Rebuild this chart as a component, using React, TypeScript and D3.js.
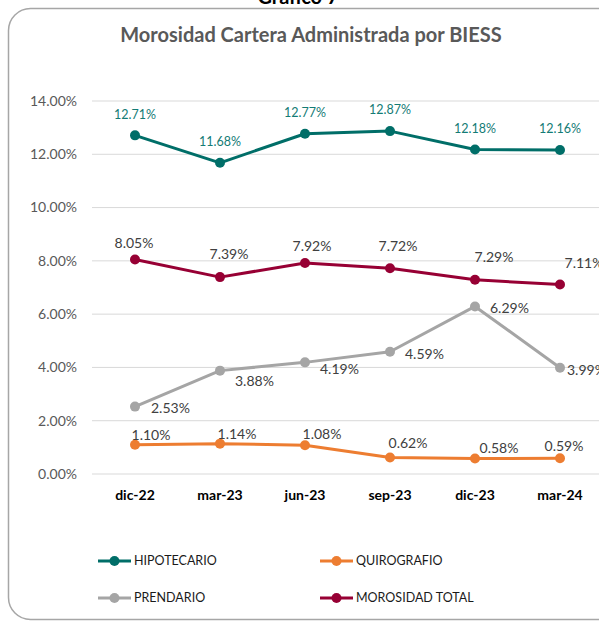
import * as d3 from 'd3';

// Chart data.
const CATEGORIES = ['dic-22', 'mar-23', 'jun-23', 'sep-23', 'dic-23', 'mar-24'];
const HIPOTECARIO = [12.71, 11.68, 12.77, 12.87, 12.18, 12.16];
const QUIROGRAFIO = [1.1, 1.14, 1.08, 0.62, 0.58, 0.59];
const PRENDARIO = [2.53, 3.88, 4.19, 4.59, 6.29, 3.99];
const MOROSIDAD_TOTAL = [8.05, 7.39, 7.92, 7.72, 7.29, 7.11];
const Y_TICKS = [0, 2, 4, 6, 8, 10, 12, 14];

const W = 599;
const H = 624;
const FONT = 'Lato, "Open Sans", sans-serif';

interface Series {
  name: string;
  values: number[];
  color: string;
  labelColor: string;
  labelSize: number;
  // default label offset relative to the point
  dx: number;
  dy: number;
  anchor: 'start' | 'middle';
  // per-point extra nudges (Excel labels dragged by hand)
  nudge?: [number, number][];
}

const SERIES: Series[] = [
  {
    name: 'HIPOTECARIO', values: HIPOTECARIO, color: '#006E68', labelColor: '#137B75',
    labelSize: 12.5, dx: 0, dy: -21, anchor: 'middle',
  },
  {
    name: 'PRENDARIO', values: PRENDARIO, color: '#A5A5A5', labelColor: '#404040',
    labelSize: 14, dx: 15, dy: 2, anchor: 'start',
    nudge: [[1, 0], [0, 8], [0, 5], [0, 0], [0, 0], [-8, 0]],
  },
  {
    name: 'QUIROGRAFIO', values: QUIROGRAFIO, color: '#ED7D31', labelColor: '#404040',
    labelSize: 14, dx: 17, dy: -10, anchor: 'middle',
    nudge: [[-1, 0], [0, 0], [0, -1], [1, -4], [7, 0], [-13, -2]],
  },
  {
    name: 'MOROSIDAD TOTAL', values: MOROSIDAD_TOTAL, color: '#970034', labelColor: '#404040',
    labelSize: 14, dx: 8, dy: -20, anchor: 'middle',
    nudge: [[-9, 4], [1, -3], [-1, 3], [0, -2], [11, -3], [16, -1]],
  },
];

const LEGEND = [
  { name: 'HIPOTECARIO', x: 98, y: 561 },
  { name: 'QUIROGRAFIO', x: 320, y: 561 },
  { name: 'PRENDARIO', x: 98, y: 598 },
  { name: 'MOROSIDAD TOTAL', x: 320, y: 598 },
];

export default function App() {
  const x = d3.scaleBand<string>().domain(CATEGORIES).range([92.5, 602.5]);
  const cx = (c: string) => (x(c) ?? 0) + x.bandwidth() / 2;
  const y = d3.scaleLinear().domain([0, 14]).range([474, 101]);

  const line = d3
    .line<number>()
    .x((_, i) => cx(CATEGORIES[i]))
    .y(v => y(v));

  const fmt = (v: number) => `${v.toFixed(2)}%`;

  return (
    <svg
      width={W}
      height={H}
      viewBox={`0 0 ${W} ${H}`}
      style={{ position: 'absolute', left: 0, top: 0, display: 'block', background: '#fff' }}
      fontFamily={FONT}
    >
      {/* Page heading, mostly cut off at the top */}
      <text x={298} y={4} textAnchor="middle" fontSize={20} fontWeight={700} fill="#000">
        Gráfico 7
      </text>

      {/* Chart card */}
      <rect x={8.5} y={8.5} width={640} height={611} rx={22} ry={22} fill="#fff" stroke="#A6A6A6" strokeWidth={1.5} />

      <text x={311} y={42} textAnchor="middle" fontSize={20} fontWeight={700} fill="#595959">
        Morosidad Cartera Administrada por BIESS
      </text>

      {/* Gridlines + y ticks */}
      {Y_TICKS.map(t => (
        <g key={`t-${t}`}>
          <line x1={92} x2={603} y1={y(t)} y2={y(t)} stroke="#D9D9D9" strokeWidth={1} />
          <text x={77} y={y(t)} dy="0.35em" textAnchor="end" fontSize={14} fill="#595959">
            {`${t.toFixed(2)}%`}
          </text>
        </g>
      ))}

      {/* X category labels */}
      {CATEGORIES.map(c => (
        <text key={c} x={cx(c)} y={500} textAnchor="middle" fontSize={14} fontWeight={700} fill="#000">
          {c}
        </text>
      ))}

      {/* Series */}
      {SERIES.map(s => (
        <g key={s.name}>
          <path d={line(s.values) ?? ''} fill="none" stroke={s.color} strokeWidth={3} strokeLinejoin="round" />
          {s.values.map((v, i) => (
            <circle key={i} cx={cx(CATEGORIES[i])} cy={y(v)} r={5} fill={s.color} />
          ))}
        </g>
      ))}

      {/* Data labels */}
      {SERIES.map(s => (
        <g key={`lbl-${s.name}`}>
          {s.values.map((v, i) => {
            const n = s.nudge ? s.nudge[i] : [0, 0];
            return (
              <text
                key={i}
                x={cx(CATEGORIES[i]) + s.dx + n[0]}
                y={y(v) + s.dy + n[1]}
                dy="0.35em"
                textAnchor={s.anchor}
                fontSize={s.labelSize}
                fill={s.labelColor}
              >
                {fmt(v)}
              </text>
            );
          })}
        </g>
      ))}

      {/* Legend */}
      {LEGEND.map(l => {
        const s = SERIES.find(d => d.name === l.name)!;
        return (
          <g key={`leg-${l.name}`} transform={`translate(${l.x},${l.y})`}>
            <line x1={0} x2={33} y1={0} y2={0} stroke={s.color} strokeWidth={3} />
            <circle cx={16.5} cy={0} r={5} fill={s.color} />
            <text x={36} y={0} dy="0.35em" fontSize={12.5} fill="#1A1A1A">
              {l.name}
            </text>
          </g>
        );
      })}
    </svg>
  );
}
